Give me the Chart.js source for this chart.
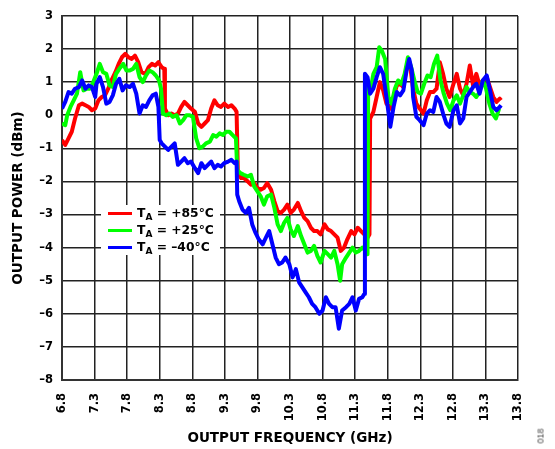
<!DOCTYPE html>
<html>
<head>
<meta charset="utf-8">
<script src="https://cdn.jsdelivr.net/npm/chart.js@4.4.1/dist/chart.umd.min.js"></script>
<style>
  body { margin: 0; background: #fff; }
  #wrap { position: relative; width: 555px; height: 449px; }
  #legend {
    position: absolute; left: 101px; top: 205px; width: 119px; height: 50px;
    background: #fff; font-family: "DejaVu Sans", sans-serif; font-weight: bold;
    font-size: 12.3px; color: #000;
  }
  .row { position: absolute; left: 0; height: 18px; line-height: 18px; width: 119px; }
  .sw { position: absolute; left: 7px; top: 7.5px; width: 24px; height: 3px; }
  .lbl { position: absolute; left: 36px; top: -1px; white-space: nowrap; }
  .sub { font-size: 9px; position: relative; top: 3px; }
  #fig {
    position: absolute; left: 533px; top: 431px; font-family: "Liberation Sans", sans-serif;
    font-size: 9px; color: #444; transform: rotate(-90deg);
  }
</style>
</head>
<body>
<div id="wrap">
  <canvas id="powerChart" width="555" height="449"></canvas>
  <div id="legend">
    <div class="row" style="top:-0.5px"><span class="sw" style="background:#ff0000"></span><span class="lbl">T<span class="sub">A</span> = +85°C</span></div>
    <div class="row" style="top:16.7px"><span class="sw" style="background:#00ff00"></span><span class="lbl">T<span class="sub">A</span> = +25°C</span></div>
    <div class="row" style="top:33.9px"><span class="sw" style="background:#0000ff"></span><span class="lbl">T<span class="sub">A</span> = –40°C</span></div>
  </div>
  <div id="fig">018</div>
</div>
<script>
// tick labels
const freqTicks = ["6.8", "7.3", "7.8", "8.3", "8.8", "9.3", "9.8", "10.3", "10.8", "11.3", "11.8", "12.3", "12.8", "13.3", "13.8"];
const powerTicks = [3, 2, 1, 0, -1, -2, -3, -4, -5, -6, -7, -8];

// TA = +85°C
const freq85 = [6.80, 6.85, 6.90, 6.95, 7.00, 7.06, 7.11, 7.16, 7.21, 7.26, 7.31, 7.36, 7.41, 7.46, 7.51, 7.57, 7.62, 7.67, 7.72, 7.77, 7.82, 7.87, 7.92, 7.97, 8.02, 8.08, 8.13, 8.18, 8.23, 8.28, 8.33, 8.37, 8.38,
  8.43, 8.48, 8.53, 8.58, 8.63, 8.68, 8.73, 8.78, 8.84, 8.89, 8.94, 8.99, 9.04, 9.09, 9.14, 9.19, 9.24, 9.29, 9.35, 9.40, 9.45, 9.48,
  9.50, 9.55, 9.59, 9.65, 9.70, 9.75, 9.80, 9.85, 9.90, 9.95, 10.01, 10.06, 10.11, 10.16, 10.21, 10.26, 10.31, 10.36, 10.42, 10.47, 10.52, 10.57, 10.62, 10.67, 10.72, 10.77, 10.83, 10.88, 10.93, 10.98, 11.03, 11.08, 11.13, 11.18, 11.24, 11.29, 11.34, 11.39, 11.44, 11.49, 11.52,
  11.53, 11.58, 11.63, 11.68, 11.73, 11.78, 11.84, 11.89, 11.94, 11.99, 12.04, 12.09, 12.14, 12.19, 12.24, 12.29, 12.35, 12.40, 12.45, 12.50, 12.55, 12.60, 12.65, 12.70, 12.75, 12.81, 12.86, 12.91, 12.96, 13.01, 13.06, 13.11, 13.16, 13.21, 13.26, 13.32, 13.37, 13.42, 13.47, 13.52, 13.54];
const pow85 = [-0.75, -0.9, -0.7, -0.5, -0.1, 0.3, 0.35, 0.3, 0.25, 0.15, 0.2, 0.45, 0.55, 0.6, 0.8, 1.1, 1.3, 1.55, 1.75, 1.85, 1.75, 1.7, 1.8, 1.6, 1.3, 1.25, 1.45, 1.55, 1.5, 1.6, 1.45, 1.4, 0.2,
  0.0, 0.05, 0.0, 0.05, 0.25, 0.4, 0.3, 0.2, 0.1, -0.25, -0.35, -0.25, -0.15, 0.2, 0.45, 0.3, 0.25, 0.35, 0.25, 0.3, 0.2, 0.1,
  -1.75, -1.9, -1.9, -2.0, -2.1, -2.05, -2.2, -2.25, -2.2, -2.05, -2.25, -2.6, -2.9, -2.95, -2.85, -2.7, -2.95, -2.85, -2.65, -2.9, -3.1, -3.2, -3.4, -3.5, -3.5, -3.6, -3.3, -3.45, -3.5, -3.6, -3.7, -4.1, -4.0, -3.75, -3.5, -3.6, -3.4, -3.5, -3.6, -3.7, -3.6,
  -0.1, 0.1, 0.55, 1.0, 0.75, 0.35, 0.2, 0.55, 0.9, 0.95, 0.85, 1.45, 1.55, 0.8, 0.35, 0.2, 0.05, 0.45, 0.7, 0.7, 0.8, 1.6, 1.25, 0.8, 0.55, 0.95, 1.25, 0.8, 0.6, 0.95, 1.5, 0.9, 1.25, 0.9, 1.05, 1.15, 0.85, 0.55, 0.4, 0.5, 0.45];

// TA = +25°C
const freq25 = [6.80, 6.85, 6.88, 6.93, 6.98, 7.03, 7.08, 7.13, 7.18, 7.23, 7.28, 7.33, 7.38, 7.43, 7.48, 7.53, 7.58, 7.63, 7.68, 7.74, 7.79, 7.84, 7.89, 7.94, 7.99, 8.04, 8.09, 8.14, 8.19, 8.24, 8.29, 8.32, 8.35,
  8.40, 8.45, 8.50, 8.56, 8.61, 8.66, 8.71, 8.76, 8.81, 8.86, 8.91, 8.96, 9.01, 9.07, 9.12, 9.17, 9.22, 9.27, 9.32, 9.37, 9.42, 9.47,
  9.49, 9.54, 9.59, 9.65, 9.70, 9.75, 9.80, 9.85, 9.90, 9.95, 10.01, 10.06, 10.11, 10.16, 10.21, 10.26, 10.31, 10.36, 10.42, 10.47, 10.52, 10.57, 10.62, 10.67, 10.72, 10.77, 10.83, 10.88, 10.93, 10.98, 11.03, 11.07, 11.10, 11.16, 11.21, 11.26, 11.31, 11.36, 11.41, 11.47, 11.49,
  11.50, 11.53, 11.58, 11.63, 11.67, 11.71, 11.76, 11.81, 11.86, 11.91, 11.96, 12.01, 12.06, 12.11, 12.16, 12.21, 12.26, 12.31, 12.36, 12.41, 12.46, 12.51, 12.56, 12.61, 12.66, 12.71, 12.76, 12.81, 12.86, 12.91, 12.96, 13.01, 13.06, 13.11, 13.16, 13.21, 13.26, 13.31, 13.36, 13.41, 13.46, 13.51];
const pow25 = [-0.25, -0.3, 0.0, 0.25, 0.45, 0.65, 1.3, 0.75, 0.8, 0.8, 1.0, 1.25, 1.55, 1.3, 1.25, 0.9, 0.85, 1.25, 1.4, 1.55, 1.35, 1.35, 1.4, 1.55, 1.15, 1.0, 1.2, 1.35, 1.3, 1.2, 1.05, 0.8, 0.05,
  0.0, 0.05, -0.05, 0.0, -0.25, -0.15, 0.0, 0.0, -0.05, -0.7, -1.0, -0.95, -0.85, -0.8, -0.6, -0.65, -0.55, -0.6, -0.5, -0.5, -0.6, -0.7,
  -1.65, -1.75, -1.8, -1.85, -1.8, -2.15, -2.3, -2.45, -2.7, -2.45, -2.4, -2.8, -3.3, -3.5, -3.25, -3.1, -3.45, -3.65, -3.35, -3.65, -3.9, -4.15, -4.1, -3.95, -4.25, -4.45, -4.1, -4.2, -4.3, -4.1, -4.5, -5.0, -4.5, -4.3, -4.15, -4.0, -4.15, -4.1, -4.0, -4.1, -4.2,
  1.0, 0.7, 1.25, 1.45, 2.05, 1.95, 1.7, 0.55, 0.35, 0.8, 1.05, 0.95, 1.25, 1.75, 1.45, 1.05, 0.7, 0.65, 0.95, 1.2, 1.15, 1.55, 1.8, 1.05, 0.65, 0.35, 0.15, 0.45, 0.6, 0.35, 0.6, 0.85, 0.7, 0.65, 0.55, 0.7, 1.05, 0.8, 0.35, 0.05, -0.1, 0.2];

// TA = -40°C
const freqM40 = [6.80, 6.85, 6.90, 6.95, 7.00, 7.06, 7.11, 7.16, 7.21, 7.26, 7.31, 7.33, 7.38, 7.43, 7.48, 7.53, 7.58, 7.63, 7.68, 7.73, 7.78, 7.84, 7.89, 7.94, 7.99, 8.04, 8.09, 8.14, 8.19, 8.24, 8.28, 8.30,
  8.33, 8.38, 8.43, 8.48, 8.53, 8.58, 8.63, 8.68, 8.73, 8.78, 8.84, 8.89, 8.94, 8.99, 9.04, 9.09, 9.14, 9.19, 9.24, 9.29, 9.35, 9.40, 9.45, 9.48,
  9.49, 9.52, 9.57, 9.62, 9.67, 9.72, 9.77, 9.82, 9.88, 9.93, 9.98, 10.03, 10.08, 10.13, 10.18, 10.23, 10.29, 10.34, 10.39, 10.44, 10.49, 10.54, 10.59, 10.64, 10.69, 10.75, 10.80, 10.85, 10.90, 10.95, 11.00, 11.05, 11.10, 11.16, 11.21, 11.26, 11.31, 11.36, 11.41, 11.44,
  11.45, 11.49, 11.53, 11.58, 11.63, 11.68, 11.73, 11.78, 11.84, 11.89, 11.94, 11.99, 12.04, 12.09, 12.13, 12.17, 12.19, 12.24, 12.29, 12.35, 12.40, 12.45, 12.50, 12.55, 12.60, 12.65, 12.70, 12.75, 12.81, 12.86, 12.91, 12.96, 13.01, 13.06, 13.11, 13.16, 13.21, 13.26, 13.32, 13.37, 13.42, 13.47, 13.52, 13.54];
const powM40 = [0.2, 0.4, 0.7, 0.65, 0.8, 0.85, 1.05, 0.8, 0.9, 0.85, 0.55, 0.95, 1.15, 0.85, 0.35, 0.4, 0.6, 0.95, 1.1, 0.75, 0.9, 0.85, 0.95, 0.65, 0.05, 0.3, 0.25, 0.45, 0.6, 0.65, 0.25, -0.75,
  -0.85, -0.95, -1.05, -0.95, -0.85, -1.5, -1.4, -1.3, -1.45, -1.4, -1.6, -1.75, -1.45, -1.6, -1.5, -1.4, -1.6, -1.5, -1.55, -1.45, -1.4, -1.35, -1.45, -1.4,
  -2.4, -2.6, -2.85, -2.95, -2.8, -3.3, -3.55, -3.75, -3.9, -3.7, -3.5, -3.9, -4.3, -4.5, -4.45, -4.3, -4.5, -4.9, -4.65, -5.05, -5.2, -5.35, -5.5, -5.7, -5.8, -6.0, -5.9, -5.5, -5.7, -5.8, -5.8, -6.45, -5.9, -5.8, -5.7, -5.5, -5.9, -5.55, -5.5, -5.4,
  1.25, 1.15, 0.65, 0.8, 1.15, 1.45, 1.25, 0.55, -0.35, 0.25, 0.7, 0.6, 0.75, 1.35, 1.7, 1.35, 0.55, -0.05, -0.15, -0.3, 0.05, 0.15, 0.1, 0.55, 0.4, 0.05, -0.25, -0.35, 0.15, 0.3, -0.25, -0.1, 0.55, 0.7, 0.85, 0.95, 0.65, 1.05, 1.2, 0.75, 0.25, 0.15, 0.25, 0.3];

const red = "#ff0000";
const green = "#00ff00";
const blue = "#0000ff";

function points(xs, ys) {
  return xs.map(function (x, i) { return { x: x, y: ys[i] }; });
}

Chart.defaults.font.family = "DejaVu Sans";
Chart.defaults.font.weight = "bold";
Chart.defaults.color = "#000";

const ctx = document.getElementById("powerChart").getContext("2d");

new Chart(ctx, {
  type: "line",
  data: {
    datasets: [
      { label: "TA = +85°C", data: points(freq85, pow85), borderColor: red, order: 3 },
      { label: "TA = +25°C", data: points(freq25, pow25), borderColor: green, order: 2 },
      { label: "TA = –40°C", data: points(freqM40, powM40), borderColor: blue, order: 1 },
    ],
  },
  options: {
    responsive: false,
    animation: false,
    events: [],
    layout: { padding: { left: 0, right: 37, top: 15, bottom: 0 } },
    elements: {
      point: { radius: 0 },
      line: { borderWidth: 4, tension: 0, borderJoinStyle: "round" },
    },
    plugins: {
      legend: { display: false }, // custom legend in html
      tooltip: { enabled: false },
    },
    scales: {
      x: {
        type: "linear",
        min: 6.8,
        max: 13.8,
        afterBuildTicks: function (scale) {
          scale.ticks = freqTicks.map(function (t) { return { value: parseFloat(t) }; });
        },
        afterFit: function (scale) { scale.height = 69; },
        ticks: {
          autoSkip: false,
          minRotation: 90,
          maxRotation: 90,
          padding: 13,
          font: { size: 11.5, weight: "bold" },
          callback: function (v) { return v.toFixed(1); },
        },
        grid: { color: "#222", lineWidth: 1.5, drawTicks: false },
        border: { color: "#333", width: 2 },
        title: {
          display: true,
          text: "OUTPUT FREQUENCY (GHz)",
          font: { size: 13.5, weight: "bold" },
          padding: { top: 0, bottom: 2.5 },
        },
      },
      y: {
        min: -8,
        max: 3,
        afterBuildTicks: function (scale) {
          scale.ticks = powerTicks.map(function (t) { return { value: t }; });
        },
        afterFit: function (scale) { scale.width = 62; },
        ticks: {
          padding: 9,
          font: { size: 11.5, weight: "bold" },
          callback: function (v) { return v < 0 ? "\u2013" + Math.abs(v) : String(v); },
        },
        grid: { color: "#222", lineWidth: 1.5, drawTicks: false },
        border: { color: "#333", width: 2 },
        title: {
          display: true,
          text: "OUTPUT POWER (dBm)",
          font: { size: 13.5, weight: "bold" },
          padding: { top: 10, bottom: 0 },
        },
      },
    },
  },
});
</script>
</body>
</html>
